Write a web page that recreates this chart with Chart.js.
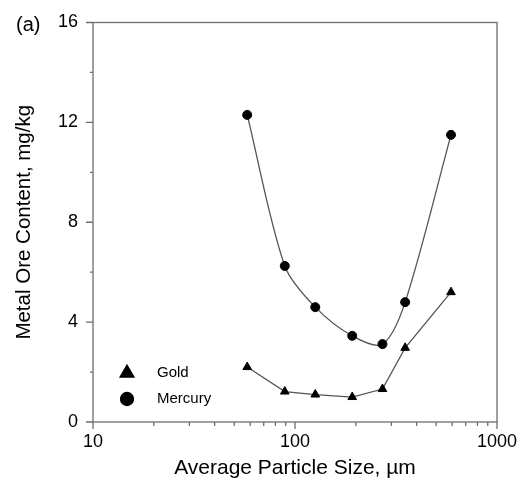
<!DOCTYPE html>
<html>
<head>
<meta charset="utf-8">
<script src="https://cdn.jsdelivr.net/npm/chart.js@4"></script>
<style>
html,body{margin:0;padding:0;background:#fff;}
#wrap{width:518px;height:486px;position:relative;}
</style>
</head>
<body>
<div id="wrap"><canvas id="c" width="518" height="486"></canvas></div>
<script>
// ---- data ----
const particleSize = [58, 89, 126, 192, 271, 351, 592];      // µm
const goldValues = [2.2, 1.22, 1.1, 1.0, 1.32, 2.97, 5.2];    // mg/kg
const mercuryValues = [12.3, 6.25, 4.6, 3.45, 3.12, 4.8, 11.5];// mg/kg
const xTickValues = [10,20,30,40,50,60,70,80,90,100,200,300,400,500,600,700,800,900,1000];
const xTickLabels = {10:'10', 100:'100', 1000:'1000'};
const yTickValues = [0,2,4,6,8,10,12,14,16];
const yTickLabels = {0:'0', 4:'4', 8:'8', 12:'12', 16:'16'};
const seriesNames = ['Gold', 'Mercury'];
const panelLabel = '(a)';
const xTitle = 'Average Particle Size, \u00b5m';
const yTitle = 'Metal Ore Content, mg/kg';

const FONT = "'Liberation Sans', Arial, sans-serif";
Chart.defaults.font.family = FONT;
Chart.defaults.color = '#000';

const toXY = (ys) => particleSize.map((x, i) => ({x: x, y: ys[i]}));

const AXIS_COLOR = '#6e6e6e';
const LINE_COLOR = '#555';

const frameTicksPlugin = {
  id: 'frameTicks',
  afterDraw(chart) {
    const {ctx, chartArea: a} = chart;
    const xs = chart.scales.x, ys = chart.scales.y;
    ctx.save();
    ctx.strokeStyle = AXIS_COLOR;
    ctx.lineWidth = 1.3;
    ctx.strokeRect(a.left, a.top, a.right - a.left, a.bottom - a.top);
    ctx.beginPath();
    xTickValues.forEach(v => {
      const px = xs.getPixelForValue(v);
      const len = (v in xTickLabels) ? 7 : 4;
      ctx.moveTo(px, a.bottom);
      ctx.lineTo(px, a.bottom + len);
    });
    yTickValues.forEach(v => {
      const py = ys.getPixelForValue(v);
      const len = (v in yTickLabels) ? 7 : 3;
      ctx.moveTo(a.left, py);
      ctx.lineTo(a.left - len, py);
    });
    ctx.stroke();

    // panel label
    ctx.fillStyle = '#000';
    ctx.font = '20px ' + FONT;
    ctx.textAlign = 'left';
    ctx.textBaseline = 'middle';
    ctx.fillText(panelLabel, 16, 25);

    // legend (inside plot)
    ctx.font = '15px ' + FONT;
    const lx = 127, ly0 = 373, dy = 26;
    chart.data.datasets.forEach((ds, i) => {
      const y = ly0 + i * dy;
      ctx.fillStyle = '#000';
      ctx.strokeStyle = '#000';
      Chart.helpers.drawPoint(ctx, {
        pointStyle: ds.pointStyle,
        radius: ds.pointStyle === 'triangle' ? 8 : 6.5,
        rotation: 0,
        borderWidth: 1
      }, lx, y);
      ctx.fillStyle = '#000';
      ctx.fillText(ds.label, 157, y);
    });
    ctx.restore();
  }
};

new Chart(document.getElementById('c'), {
  type: 'line',
  data: {
    datasets: [
      {
        label: seriesNames[0],
        data: toXY(goldValues),
        borderColor: LINE_COLOR,
        borderWidth: 1.3,
        pointStyle: 'triangle',
        pointRadius: 5,
        pointBackgroundColor: '#000',
        pointBorderColor: '#000',
        pointBorderWidth: 1,
        tension: 0
      },
      {
        label: seriesNames[1],
        data: toXY(mercuryValues),
        borderColor: LINE_COLOR,
        borderWidth: 1.3,
        pointStyle: 'circle',
        pointRadius: 4.5,
        pointBackgroundColor: '#000',
        pointBorderColor: '#000',
        pointBorderWidth: 1,
        tension: 0.3
      }
    ]
  },
  options: {
    responsive: false,
    animation: false,
    events: [],
    layout: {padding: {left: 0, right: 21, top: 22.5, bottom: 0}},
    plugins: {legend: {display: false}, tooltip: {enabled: false}},
    scales: {
      x: {
        type: 'logarithmic',
        min: 10, max: 1000,
        grid: {display: false, drawTicks: false},
        border: {display: false},
        afterBuildTicks: (s) => { s.ticks = xTickValues.map(v => ({value: v})); },
        afterFit: (s) => { s.height = 64; s.paddingLeft = 0; s.paddingRight = 0; },
        ticks: {
          autoSkip: false, maxRotation: 0, padding: 9,
          font: {size: 18},
          callback: (v) => xTickLabels[v] || ''
        },
        title: {display: true, text: xTitle, font: {size: 21}, padding: {top: 0, bottom: 5}}
      },
      y: {
        type: 'linear',
        min: 0, max: 16,
        grid: {display: false, drawTicks: false},
        border: {display: false},
        afterBuildTicks: (s) => { s.ticks = yTickValues.map(v => ({value: v})); },
        afterFit: (s) => { s.width = 93; s.paddingTop = 0; s.paddingBottom = 0; },
        ticks: {
          autoSkip: false, padding: 15,
          font: {size: 18},
          callback: (v) => yTickLabels[v] || ''
        },
        title: {display: true, text: yTitle, font: {size: 20.5}, padding: {top: 12, bottom: 0}}
      }
    }
  },
  plugins: [frameTicksPlugin]
});
</script>
</body>
</html>
